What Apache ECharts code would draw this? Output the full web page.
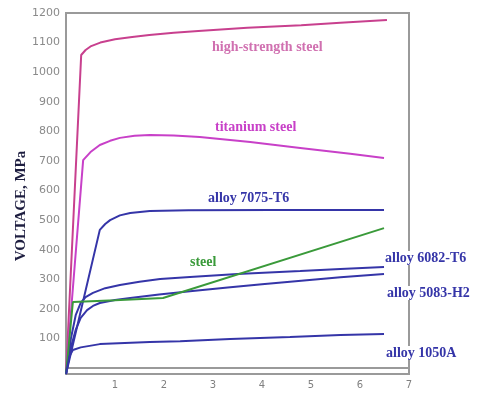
<!DOCTYPE html>
<html>
<head>
<meta charset="utf-8">
<script src="https://cdn.jsdelivr.net/npm/echarts@6/dist/echarts.min.js"></script>
<style>
  html, body { margin: 0; padding: 0; background: #fff; }
  #chart { width: 481px; height: 394px; }
</style>
</head>
<body>
<div id="chart"></div>
<script>
// strain (x) vs stress (y)
const highStrengthSteel = [[0, -20], [0.31, 1058], [0.4, 1075], [0.5, 1087], [0.7, 1100], [1.0, 1111], [1.35, 1119], [1.7, 1126], [2.2, 1133], [2.7, 1139], [3.7, 1150], [4.8, 1159], [5.6, 1167], [6.55, 1176]];
const titaniumSteel = [[0, -20], [0.35, 703], [0.5, 730], [0.69, 754], [0.9, 768], [1.1, 778], [1.4, 785], [1.71, 788], [2.2, 786], [2.73, 781], [3.76, 764], [4.78, 744], [5.8, 724], [6.49, 710]];
const alloy7075 = [[0, -20], [0.69, 467], [0.8, 487], [0.9, 500], [1.1, 516], [1.31, 524], [1.71, 531], [2.5, 533], [4.2, 534], [6.49, 534]];
const alloy6082 = [[0, -20], [0.1, 100], [0.2, 180], [0.3, 220], [0.4, 240], [0.55, 254], [0.8, 270], [1.1, 281], [1.5, 292], [1.92, 301], [2.53, 308], [3.5, 318], [4.78, 328], [5.6, 335], [6.49, 342]];
const alloy5083 = [[0, -20], [0.1, 70], [0.2, 130], [0.3, 170], [0.43, 196], [0.55, 210], [0.69, 220], [1.0, 230], [1.31, 237], [1.9, 249], [2.53, 260], [3.3, 272], [4.0, 283], [4.8, 295], [5.6, 307], [6.49, 318]];
const steel = [[0, -20], [0.14, 223], [1.0, 229], [1.98, 237], [6.49, 473]];
const alloy1050A = [[0, -20], [0.07, 40], [0.14, 61], [0.3, 70], [0.69, 81], [1.2, 85], [1.71, 88], [2.33, 91], [3.35, 98], [4.57, 105], [5.6, 112], [6.49, 115]];

const yTicks = [100, 200, 300, 400, 500, 600, 700, 800, 900, 1000, 1100, 1200];

const pink = '#c8408e';
const magenta = '#c840c8';
const navy = '#3535a8';
const green = '#3a9a3a';

function curve(name, data, color) {
  return {
    name: name,
    type: 'line',
    data: data,
    showSymbol: false,
    lineStyle: { color: color, width: 2 },
    itemStyle: { color: color },
    z: 3
  };
}

function note(text, x, y, color, size) {
  return {
    type: 'text',
    x: x,
    y: y,
    z: 20,
    style: {
      text: text,
      fill: color,
      font: 'bold ' + (size || 14) + 'px "Liberation Serif", serif',
      verticalAlign: 'middle',
      backgroundColor: '#fff'
    }
  };
}

let chart = echarts.init(document.getElementById('chart'));
let option = {
  animation: false,
  backgroundColor: '#fff',
  grid: {
    left: 66, right: 72, top: 13, bottom: 20,
    show: true, borderColor: '#9a9a9a', borderWidth: 2
  },
  xAxis: {
    type: 'value',
    min: 0, max: 7, interval: 1,
    axisLine: { lineStyle: { color: '#9a9a9a', width: 2 } },
    axisTick: { show: false },
    splitLine: { show: false },
    axisLabel: {
      color: '#808080', fontSize: 10, margin: 6,
      fontFamily: 'DejaVu Sans',
      formatter: v => (v === 0 ? '' : String(v))
    }
  },
  yAxis: {
    type: 'value',
    min: -20, max: 1200,
    axisLine: { show: true, lineStyle: { color: '#9a9a9a', width: 2 } },
    axisTick: { show: false },
    splitLine: { show: false },
    axisLabel: {
      customValues: yTicks,
      color: '#8a8a8a', fontSize: 11, margin: 6,
      fontFamily: 'DejaVu Sans',
      formatter: v => String(v)
    }
  },
  series: [
    curve('high-strength steel', highStrengthSteel, pink),
    curve('titanium steel', titaniumSteel, magenta),
    curve('alloy 7075-T6', alloy7075, navy),
    curve('alloy 6082-T6', alloy6082, navy),
    curve('alloy 5083-H2', alloy5083, navy),
    curve('steel', steel, green),
    curve('alloy 1050A', alloy1050A, navy)
  ],
  graphic: [
    {
      type: 'text',
      x: 21, y: 206,
      rotation: Math.PI / 2,
      style: {
        text: 'VOLTAGE, MPa',
        fill: '#1e1e40',
        font: 'bold 15px "Liberation Serif", serif',
        align: 'center',
        verticalAlign: 'middle'
      }
    },
    note('high-strength steel', 212, 47, '#d070b0'),
    note('titanium steel', 215, 127, magenta),
    note('alloy 7075-T6', 208, 198, navy),
    note('steel', 190, 262, green),
    note('alloy 6082-T6', 385, 258, navy),
    note('alloy 5083-H2', 387, 293, navy),
    note('alloy 1050A', 386, 353, navy)
  ]
};
chart.setOption(option);
</script>
</body>
</html>
